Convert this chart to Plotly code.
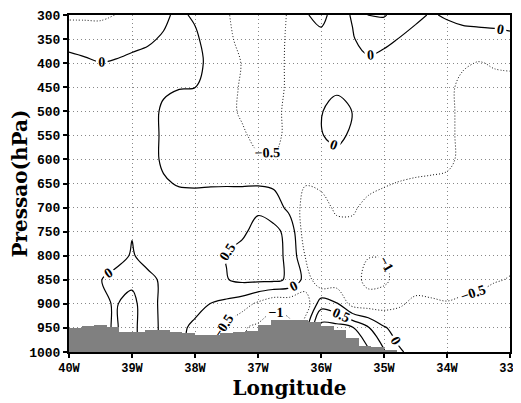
import plotly.graph_objects as go

# grid: longitude (deg, west negative) and pressure levels (hPa)
lon = [-40 + 0.25 * i for i in range(29)]
pres = [300, 350, 400, 450, 500, 550, 600, 650, 700, 750, 800, 850, 900, 950, 1000]

# field values, one list per pressure level
w300 = [-0.6, -0.6, -0.58, -0.49, -0.4, -0.25, -0.08, 0.1, -0.08, -0.3, -0.45, -0.7, -0.75, -0.6, -0.475, -0.03, 0.1, -0.15, 0.03, 0.52, 0.53, 0.35, 0.1, -0.04, 0.05, 0.15, 0.2, 0.25, 0.3]
w350 = [-0.12, -0.14, -0.24, -0.14, -0.1, -0.05, 0.04, 0.15, 0.1, -0.26, -0.42, -0.6, -0.7, -0.62, -0.45, -0.2, -0.1, -0.2, -0.03, 0.16, 0.2, -0.03, -0.15, -0.2, -0.2, -0.2, -0.2, -0.2, -0.15]
w400 = [0.1, 0.05, 0.01, 0.03, 0.08, 0.12, 0.15, 0.15, 0.1, -0.09, -0.3, -0.52, -0.65, -0.6, -0.45, -0.25, -0.2, -0.2, -0.15, -0.08, -0.3, -0.3, -0.3, -0.3, -0.35, -0.45, -0.52, -0.47, -0.45]
w450 = [0.15, 0.15, 0.15, 0.15, 0.15, 0.15, 0.1, 0.02, 0.005, -0.2, -0.35, -0.55, -0.65, -0.6, -0.45, -0.3, -0.25, -0.1, -0.25, -0.25, -0.3, -0.3, -0.3, -0.3, -0.4, -0.6, -0.65, -0.6, -0.6]
w500 = [0.2, 0.2, 0.2, 0.2, 0.2, 0.25, -0.1, -0.2, -0.25, -0.3, -0.4, -0.55, -0.7, -0.65, -0.35, -0.2, -0.03, 0.2, -0.01, -0.2, -0.25, -0.3, -0.3, -0.35, -0.4, -0.6, -0.65, -0.65, -0.65]
w550 = [0.2, 0.2, 0.2, 0.2, 0.2, 0.25, -0.1, -0.2, -0.25, -0.3, -0.4, -0.45, -0.6, -0.6, -0.4, -0.2, -0.03, 0.15, -0.1, -0.2, -0.25, -0.3, -0.35, -0.35, -0.4, -0.6, -0.65, -0.65, -0.65]
w600 = [0.2, 0.2, 0.2, 0.2, 0.2, 0.25, -0.1, -0.2, -0.25, -0.3, -0.35, -0.4, -0.45, -0.47, -0.35, -0.25, -0.2, -0.2, -0.2, -0.25, -0.3, -0.3, -0.35, -0.35, -0.4, -0.6, -0.65, -0.65, -0.65]
w650 = [0.2, 0.2, 0.2, 0.2, 0.2, 0.2, 0.07, -0.05, -0.07, -0.05, -0.05, -0.06, -0.05, -0.1, -0.2, -0.48, -0.45, -0.4, -0.4, -0.4, -0.47, -0.52, -0.55, -0.58, -0.6, -0.65, -0.7, -0.7, -0.7]
w700 = [0.2, 0.2, 0.2, 0.2, 0.2, 0.2, 0.25, 0.3, 0.3, 0.3, 0.35, 0.4, 0.45, 0.3, -0.16, -0.67, -0.6, -0.45, -0.45, -0.6, -0.65, -0.65, -0.65, -0.65, -0.65, -0.7, -0.7, -0.7, -0.7]
w750 = [0.2, 0.2, 0.2, 0.15, 0.03, 0.15, 0.25, 0.3, 0.3, 0.35, 0.4, 0.45, 0.6, 0.6, 0.38, -0.8, -0.65, -0.6, -0.6, -0.7, -0.75, -0.7, -0.7, -0.7, -0.7, -0.7, -0.7, -0.65, -0.65]
w800 = [0.2, 0.2, 0.2, 0.2, -0.05, 0.2, 0.25, 0.3, 0.35, 0.35, 0.52, 0.6, 0.65, 0.6, 0.43, -0.52, -0.65, -0.6, -0.7, -0.98, -0.98, -0.8, -0.75, -0.7, -0.7, -0.7, -0.7, -0.65, -0.6]
w850 = [0.2, 0.2, 0.02, -0.2, -0.15, -0.15, 0.1, 0.3, 0.35, 0.4, 0.48, 0.6, 0.6, 0.6, 0.43, -0.16, -0.95, -0.8, -0.8, -1.15, -1.1, -0.8, -0.7, -0.65, -0.65, -0.6, -0.6, -0.53, -0.48]
w900 = [0.2, 0.2, 0.06, -0.03, 0.2, -0.4, 0.24, 0.25, 0.15, -0.01, -0.12, -0.28, -0.6, -0.9, -0.85, -0.84, 0.3, 0.05, -0.7, -0.75, -0.7, -0.55, -0.4, -0.45, -0.48, -0.45, -0.4, -0.3, -0.25]
w950 = [0.2, 0.2, 0.06, -0.03, 0.2, -0.4, 0.2, 0.1, -0.1, -0.3, -0.62, -0.95, -1.1, -1.2, -1.1, -0.2, 1.2, 1.2, 1.05, 0.55, 0.05, -0.2, -0.3, -0.35, -0.4, -0.4, -0.35, -0.3, -0.25]
w1000 = [0.2, 0.2, 0.06, -0.03, 0.2, -0.4, 0.2, 0.1, -0.1, -0.3, -0.62, -0.95, -1.1, -1.2, -1.1, -0.2, 1.3, 1.3, 1.3, 1.1, 0.55, 0.05, -0.15, -0.3, -0.35, -0.35, -0.35, -0.3, -0.25]

# topography: surface pressure (hPa) on 0.2 deg cells from 40W
topo_lon = [-39.9 + 0.2 * k for k in range(26)]
topo_ps = [950, 946, 944, 949, 958, 958, 954, 954, 958, 961, 965, 965, 961, 959, 956, 944,
           934, 934, 934, 938, 946, 954, 971, 988, 990, 996]

xtick_vals = [-40, -39, -38, -37, -36, -35, -34, -33]
xtick_text = ["40W", "39W", "38W", "37W", "36W", "35W", "34W", "33W"]
ytick_vals = list(range(300, 1001, 50))

z = [w300, w350, w400, w450, w500, w550, w600, w650, w700, w750, w800, w850, w900, w950, w1000]

label_font = dict(family="Liberation Serif", size=14, color="black", weight="bold")

fig = go.Figure()
fig.add_trace(go.Contour(
    x=lon, y=pres, z=z, showscale=False, hoverinfo="skip",
    contours=dict(start=-1, end=-0.5, size=0.5, coloring="none",
                  showlabels=True, labelfont=label_font),
    line=dict(color="#111111", width=1, dash="1px,2px", smoothing=1),
))
fig.add_trace(go.Contour(
    x=lon, y=pres, z=z, showscale=False, hoverinfo="skip",
    contours=dict(start=0, end=1, size=0.5, coloring="none",
                  showlabels=True, labelfont=label_font),
    line=dict(color="black", width=1.2, smoothing=1),
))
fig.add_trace(go.Bar(
    x=topo_lon, y=[1000 - p for p in topo_ps], base=topo_ps, width=0.2,
    marker=dict(color="#808080", line=dict(width=0)), hoverinfo="skip",
))

xtick_font = dict(family="Liberation Mono", size=12, color="black", weight="bold")
ytick_font = dict(family="Liberation Mono", size=13, color="black", weight="bold")
title_font = dict(family="DejaVu Serif", size=20, color="black", weight="bold")

# the page body adds an 8px offset, so the figure is 8px smaller with shifted margins
fig.update_layout(
    width=513, height=395,
    margin=dict(l=61, r=11, t=7, b=51),
    paper_bgcolor="white", plot_bgcolor="white",
    showlegend=False, bargap=0,
    xaxis=dict(range=[-40, -33], tickvals=xtick_vals, ticktext=xtick_text,
               automargin=False, ticklabeloverflow="allow",
               showgrid=True, gridcolor="#888888", griddash="1px,3px", gridwidth=1,
               ticks="outside", ticklen=4, tickwidth=1.5, tickcolor="black",
               showline=True, linecolor="black", linewidth=2, mirror=True,
               tickfont=xtick_font, zeroline=False,
               title=dict(text="Longitude", font=title_font, standoff=4)),
    yaxis=dict(range=[1000, 300], tickvals=ytick_vals,
               automargin=False, ticklabeloverflow="allow",
               showgrid=True, gridcolor="#888888", griddash="1px,3px", gridwidth=1,
               ticks="outside", ticklen=4, tickwidth=1.5, tickcolor="black",
               showline=True, linecolor="black", linewidth=2, mirror=True,
               tickfont=ytick_font, zeroline=False,
               title=dict(text="Pressao(hPa)", font=title_font, standoff=4)),
)

fig.write_html("out.html")
